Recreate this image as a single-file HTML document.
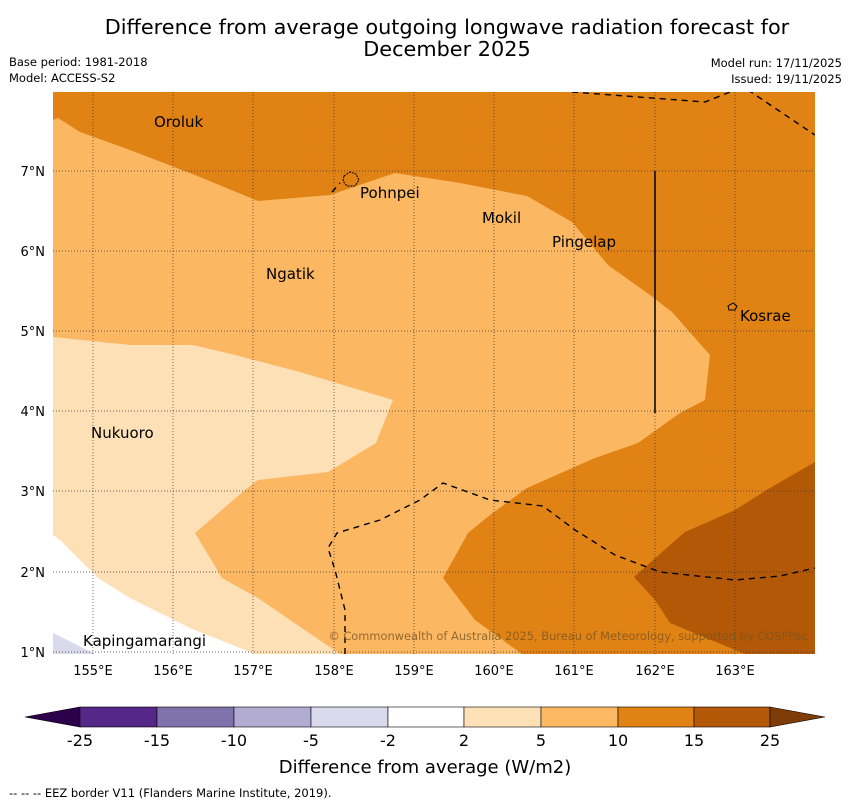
<!DOCTYPE html>
<html><head><meta charset="utf-8">
<style>
body{margin:0;background:#fff;font-family:"Liberation Sans","DejaVu Sans",sans-serif;}
svg{display:block}
text{font-family:"DejaVu Sans","Liberation Sans",sans-serif;}
</style></head>
<body>
<svg width="850" height="804" viewBox="0 0 850 804">
<text x="447" y="34" font-size="20.8" text-anchor="middle">Difference from average outgoing longwave radiation forecast for</text>
<text x="447" y="56" font-size="20.8" text-anchor="middle">December 2025</text>
<text x="9" y="66" font-size="11.5">Base period: 1981-2018</text>
<text x="9" y="82" font-size="11.5">Model: ACCESS-S2</text>
<text x="842" y="67" font-size="11.5" text-anchor="end">Model run: 17/11/2025</text>
<text x="842" y="83" font-size="11.5" text-anchor="end">Issued: 19/11/2025</text>
<defs><clipPath id="mc"><rect x="53" y="92" width="762" height="562"/></clipPath></defs>
<g clip-path="url(#mc)">
<rect x="53" y="92" width="762" height="562" fill="#e08214"/>
<polygon fill="#fbb762" points="53,120 58,118 80,132 130,150 195,175 258,201 330,195 395,173 460,183 527,196 572,222 608,265 650,295 672,312 710,355 705,400 680,413 638,443 595,458 527,488 490,515 468,533 443,578 475,620 522,654 53,654"/>
<polygon fill="#fde0b6" points="53,337 130,345 193,345 235,355 300,372 393,400 376,443 328,472 258,480 245,490 195,533 222,578 258,598 293,622 340,654 53,654"/>
<polygon fill="#ffffff" points="53,535 60,540 98,578 130,598 190,628 255,654 53,654"/>
<polygon fill="#d8daeb" points="53,633 95,654 53,654"/>
<polygon fill="#b35806" points="815,462 770,488 735,510 685,532 670,545 634,577 655,600 670,623 745,654 815,654"/>
<g stroke="#333" stroke-width="0.7" stroke-dasharray="1,2">
<line x1="93" y1="92" x2="93" y2="654"/><line x1="173" y1="92" x2="173" y2="654"/><line x1="253" y1="92" x2="253" y2="654"/><line x1="334" y1="92" x2="334" y2="654"/><line x1="414" y1="92" x2="414" y2="654"/><line x1="494" y1="92" x2="494" y2="654"/><line x1="574" y1="92" x2="574" y2="654"/><line x1="655" y1="92" x2="655" y2="654"/><line x1="735" y1="92" x2="735" y2="654"/>
<line x1="53" y1="171" x2="815" y2="171"/><line x1="53" y1="251" x2="815" y2="251"/><line x1="53" y1="331" x2="815" y2="331"/><line x1="53" y1="411" x2="815" y2="411"/><line x1="53" y1="491" x2="815" y2="491"/><line x1="53" y1="572" x2="815" y2="572"/><line x1="53" y1="652" x2="815" y2="652"/>
</g>
<g fill="none" stroke="#000" stroke-width="1.4" stroke-dasharray="6,5">
<polyline points="572,92 705,102 740,88"/><polyline points="748,90 815,135"/>
<polyline points="345,654 345,610 335,570 328,548 337,533 380,520 420,500 443,483 490,500 543,506 575,530 615,555 660,572 735,580 780,576 815,568"/>
<polyline points="332,192 340,183"/>
</g>
<line x1="655" y1="171" x2="655" y2="413" stroke="#000" stroke-width="1.5"/>
<g fill="none" stroke="#000" stroke-width="1">
<path d="M344,176 l6,-4 6,2 3,6 -4,6 -8,0 -4,-5z" stroke-dasharray="2,1"/>
<path d="M728,306 l5,-3 4,3 -2,4 -6,0z"/>
</g>
<g font-size="15">
<text x="154" y="127">Oroluk</text><text x="360" y="198">Pohnpei</text><text x="482" y="223">Mokil</text>
<text x="552" y="247">Pingelap</text><text x="266" y="279">Ngatik</text><text x="740" y="321">Kosrae</text>
<text x="91" y="438">Nukuoro</text><text x="83" y="646">Kapingamarangi</text>
</g>
<text x="808" y="640" font-size="11.4" text-anchor="end" fill="#7a5520" fill-opacity="0.8">© Commonwealth of Australia 2025, Bureau of Meteorology, supported by COSPPac</text>
</g>
<g font-size="13" text-anchor="end">
<text x="45" y="176">7°N</text><text x="45" y="256">6°N</text><text x="45" y="336">5°N</text><text x="45" y="416">4°N</text><text x="45" y="496">3°N</text><text x="45" y="577">2°N</text><text x="45" y="657">1°N</text>
</g>
<g font-size="13" text-anchor="middle">
<text x="93" y="675">155°E</text><text x="173" y="675">156°E</text><text x="253" y="675">157°E</text><text x="334" y="675">158°E</text><text x="414" y="675">159°E</text><text x="494" y="675">160°E</text><text x="574" y="675">161°E</text><text x="655" y="675">162°E</text><text x="735" y="675">163°E</text>
</g>
<g stroke="#000" stroke-width="0.6">
<polygon points="25,717 80,707 80,727" fill="#2d004b"/>
<rect x="80" y="707" width="77" height="20" fill="#542788"/>
<rect x="157" y="707" width="77" height="20" fill="#8073ac"/>
<rect x="234" y="707" width="77" height="20" fill="#b2abd2"/>
<rect x="311" y="707" width="77" height="20" fill="#d8daeb"/>
<rect x="388" y="707" width="76" height="20" fill="#ffffff"/>
<rect x="464" y="707" width="77" height="20" fill="#fee0b6"/>
<rect x="541" y="707" width="77" height="20" fill="#fdb863"/>
<rect x="618" y="707" width="76" height="20" fill="#e08214"/>
<rect x="694" y="707" width="76" height="20" fill="#b35806"/>
<polygon points="770,707 825,717 770,727" fill="#7f3b08"/>
</g>
<g font-size="16" text-anchor="middle">
<text x="80" y="746">-25</text><text x="157" y="746">-15</text><text x="234" y="746">-10</text><text x="311" y="746">-5</text><text x="388" y="746">-2</text><text x="464" y="746">2</text><text x="541" y="746">5</text><text x="618" y="746">10</text><text x="694" y="746">15</text><text x="770" y="746">25</text>
</g>
<text x="425" y="773" font-size="18" text-anchor="middle">Difference from average (W/m2)</text>
<text x="9" y="797" font-size="11.5">--  --  -- EEZ border V11 (Flanders Marine Institute, 2019).</text>
</svg>
</body></html>
